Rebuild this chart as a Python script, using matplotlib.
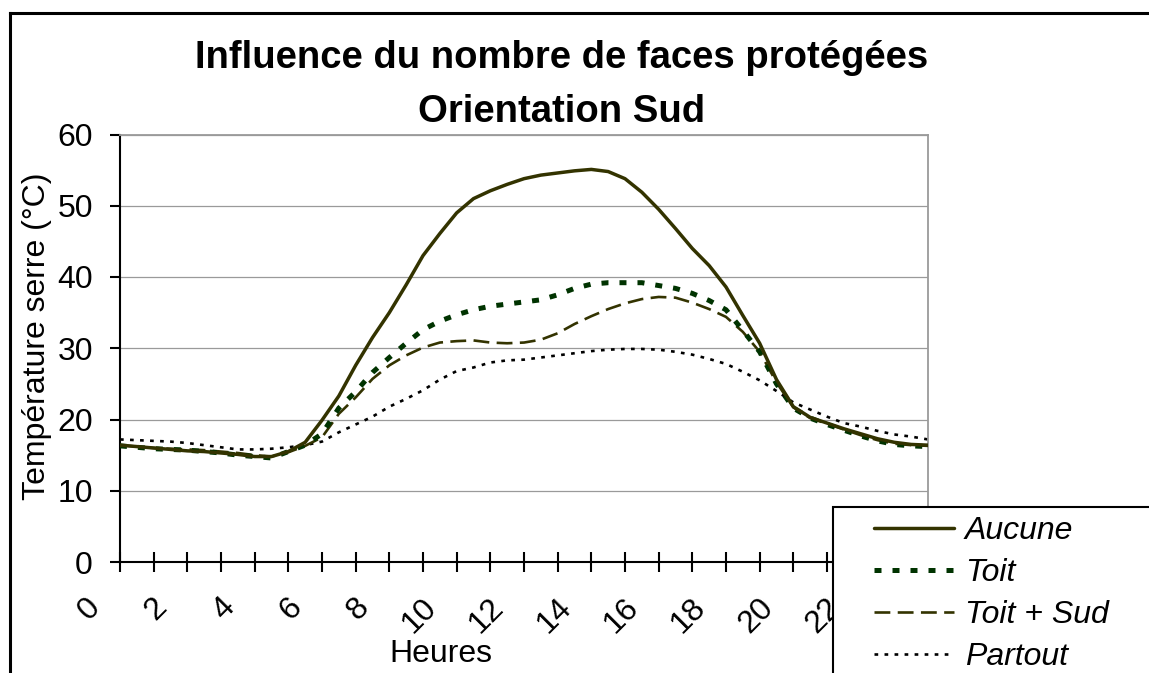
import matplotlib
matplotlib.use("Agg")
import matplotlib.pyplot as plt
from matplotlib.lines import Line2D
from matplotlib.patches import Rectangle
from matplotlib.transforms import ScaledTranslation

plt.rcParams['font.family'] = ['Liberation Sans', 'DejaVu Sans']

hours = [0, 0.5, 1, 1.5, 2, 2.5, 3, 3.5, 4, 4.5, 5, 5.5, 6, 6.5, 7, 7.5, 8, 8.5,
         9, 9.5, 10, 10.5, 11, 11.5, 12, 12.5, 13, 13.5, 14, 14.5, 15, 15.5, 16,
         16.5, 17, 17.5, 18, 18.5, 19, 19.5, 20, 20.5, 21, 21.5, 22, 22.5, 23,
         23.5, 24]

aucune = [16.4, 16.2, 16.0, 15.8, 15.6, 15.5, 15.3, 15.1, 14.8, 14.8, 15.5, 16.8,
          19.9, 23.3, 27.6, 31.5, 35.0, 38.9, 43.0, 46.1, 49.0, 51.0, 52.1, 53.0,
          53.8, 54.3, 54.6, 54.9, 55.1, 54.8, 53.8, 51.9, 49.5, 46.8, 44.0, 41.6,
          38.6, 34.6, 30.7, 25.6, 21.8, 20.3, 19.5, 18.7, 18.0, 17.3, 16.8, 16.5, 16.4]

toit = [16.3, 16.1, 15.9, 15.8, 15.7, 15.5, 15.3, 15.0, 14.8, 14.6, 15.5, 16.4,
        18.0, 21.6, 23.9, 26.6, 28.7, 30.7, 32.6, 33.8, 34.7, 35.4, 35.9, 36.2,
        36.5, 36.8, 37.5, 38.4, 39.0, 39.2, 39.2, 39.2, 38.8, 38.4, 37.7, 36.7,
        35.4, 32.5, 29.5, 25.0, 21.6, 20.2, 19.3, 18.5, 17.7, 17.0, 16.5, 16.3, 16.2]

toit_sud = [16.4, 16.2, 16.0, 15.9, 15.8, 15.7, 15.5, 15.3, 15.0, 14.8, 15.4, 16.3,
            17.5, 20.8, 23.1, 25.7, 27.6, 29.0, 30.1, 30.8, 31.0, 31.1, 30.8, 30.7,
            30.8, 31.2, 32.1, 33.4, 34.5, 35.5, 36.3, 36.9, 37.2, 37.1, 36.4, 35.5,
            34.4, 32.3, 29.5, 25.2, 21.7, 20.2, 19.4, 18.6, 17.8, 17.1, 16.6, 16.4, 16.3]

partout = [17.2, 17.1, 17.0, 16.9, 16.7, 16.4, 16.1, 15.8, 15.8, 15.9, 16.1, 16.4,
           16.9, 18.2, 19.3, 20.4, 21.8, 22.9, 24.1, 25.6, 26.8, 27.3, 28.0, 28.3,
           28.4, 28.7, 29.0, 29.3, 29.6, 29.8, 29.9, 29.9, 29.8, 29.5, 29.1, 28.5,
           27.8, 26.7, 25.5, 24.0, 22.4, 21.4, 20.4, 19.5, 19.0, 18.4, 17.9, 17.6, 17.2]

series_names = ['Aucune', 'Toit', 'Toit + Sud', 'Partout']
x_tick_labels = ['0', '2', '4', '6', '8', '10', '12', '14', '16', '18', '20', '22']
y_ticks = [0, 10, 20, 30, 40, 50, 60]

W, H = 1149, 673
fig = plt.figure(figsize=(W / 100, H / 100), dpi=100)
ax = fig.add_axes([120 / W, 1 - 562 / H, (928 - 120) / W, (562 - 134.5) / H])

ax.plot(hours, aucune, color='#333300', lw=2.5, solid_capstyle='round', label=series_names[0], zorder=5)
ax.plot(hours, toit, color='#003300', lw=3.6, linestyle=(0, (1.4, 2.2)), dash_capstyle='butt',
        label=series_names[1], zorder=4)
ax.plot(hours, toit_sud, color='#333300', lw=1.9, linestyle=(0, (6.0, 2.8)), label=series_names[2], zorder=3)
ax.plot(hours, partout, color='black', lw=1.9, linestyle=(0, (1.4, 2.4)), label=series_names[3], zorder=2)

ax.set_xlim(0, 24)
ax.set_ylim(0, 60)
ax.set_yticks(y_ticks)
ax.set_xticks(list(range(0, 24, 2)))
ax.set_xticklabels(x_tick_labels, rotation=45, ha='right', va='top')
ax.set_xticks(list(range(1, 25, 2)), minor=True)

ax.yaxis.grid(True, color='#9a9a9a', lw=0.9)
ax.set_axisbelow(True)

for s in ['left', 'bottom']:
    ax.spines[s].set_color('black')
    ax.spines[s].set_linewidth(1.5)
for s in ['top', 'right']:
    ax.spines[s].set_color('#9a9a9a')
    ax.spines[s].set_linewidth(1.3)

ax.tick_params(axis='y', direction='out', length=7.5, width=1.5, labelsize=23, pad=12)
ax.tick_params(axis='x', which='both', direction='inout', length=14, width=1.5)
ax.tick_params(axis='x', which='major', labelsize=23, pad=15)

off = ScaledTranslation(-0.14, 0, fig.dpi_scale_trans)
for lbl in ax.get_xticklabels():
    lbl.set_transform(lbl.get_transform() + off)

fig.text(441 / W, 1 - 654 / H, 'Heures', fontsize=23, ha='center', va='center')
fig.text(37 / W, 1 - 336 / H, 'Température serre (°C)', fontsize=23, rotation=90,
         ha='center', va='center')

fig.text(562 / W, 1 - 68 / H, 'Influence du nombre de faces protégées', fontsize=27.5,
         fontweight='bold', ha='center', va='baseline')
fig.text(562 / W, 1 - 122 / H, 'Orientation Sud', fontsize=27.5,
         fontweight='bold', ha='center', va='baseline')

# chart-area border (cropped on right and bottom)
fig.add_artist(Line2D([10 / W, 1.0], [1 - 12.5 / H, 1 - 12.5 / H], color='black', lw=2.2,
                      transform=fig.transFigure))
fig.add_artist(Line2D([10 / W, 10 / W], [1 - 12.5 / H, 0.0], color='black', lw=2.2,
                      transform=fig.transFigure))

# legend box (cropped on right and bottom)
fig.add_artist(Rectangle((833 / W, -0.05), 1.1 - 833 / W, 1 - 507 / H + 0.05,
                         transform=fig.transFigure, facecolor='white', edgecolor='black',
                         lw=1.5, zorder=10))
leg = fig.legend(loc='upper left', bbox_to_anchor=(874 / W, 1 - 516 / H), frameon=False,
                 prop={'size': 23, 'style': 'italic'}, handlelength=2.5,
                 handletextpad=0.35, labelspacing=0.38, borderpad=0, borderaxespad=0)
leg.set_zorder(11)

fig.savefig('out.png', dpi=100)
